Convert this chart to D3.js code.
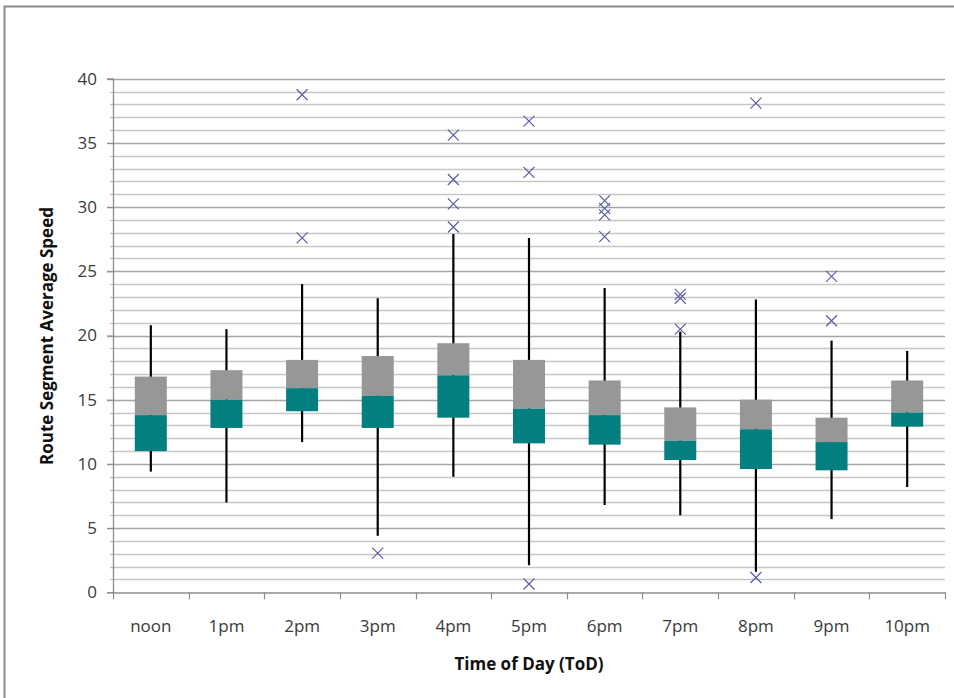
<!DOCTYPE html>
<html>
<head>
<meta charset="utf-8">
<script src="https://cdn.jsdelivr.net/npm/d3@7"></script>
<style>
  html, body { margin: 0; padding: 0; background: #fff; }
  svg { display: block; }
</style>
</head>
<body>
<svg id="chart" width="954" height="698"></svg>
<script>
const categories = ["noon","1pm","2pm","3pm","4pm","5pm","6pm","7pm","8pm","9pm","10pm"];
const whiskerLow  = [9.4, 7.0, 11.7, 4.4, 9.0, 2.1, 6.8, 6.0, 1.6, 5.7, 8.2];
const q1          = [11.0, 12.8, 14.1, 12.8, 13.6, 11.6, 11.5, 10.3, 9.6, 9.5, 12.9];
const median      = [13.8, 15.0, 15.9, 15.3, 16.9, 14.3, 13.8, 11.8, 12.7, 11.7, 14.0];
const q3          = [16.8, 17.3, 18.1, 18.4, 19.4, 18.1, 16.5, 14.4, 15.0, 13.6, 16.5];
const whiskerHigh = [20.8, 20.5, 24.0, 22.9, 27.9, 27.6, 23.7, 20.3, 22.8, 19.6, 18.8];
const outliers = [
  [],
  [],
  [38.75, 27.6],
  [3.05],
  [35.6, 32.15, 30.25, 28.45],
  [36.7, 32.7, 0.65],
  [30.5, 29.9, 29.4, 27.7],
  [23.2, 22.9, 20.5],
  [38.1, 1.15],
  [24.6, 21.15],
  []
];
const yTicks = [0, 5, 10, 15, 20, 25, 30, 35, 40];
const yTitle = "Route Segment Average Speed";
const xTitle = "Time of Day (ToD)";

const svg = d3.select("#chart");
const left = 113, right = 945, y0 = 592.3, y40 = 78.7;
const FONT = "'Open Sans', sans-serif";

// frame
svg.append("rect").attr("x", 4.5).attr("y", 6.5).attr("width", 1000).attr("height", 1000)
  .attr("fill", "none").attr("stroke", "#8a8a8a").attr("stroke-width", 2);

const x = d3.scaleBand().domain(categories).range([left, right]).padding(0);
const y = d3.scaleLinear().domain([0, 40]).range([y0, y40]);

// gridlines every 1 unit
const gridVals = d3.range(1, 41);
svg.append("g").selectAll("line").data(gridVals).join("line")
  .attr("x1", d => d % 5 === 0 ? left - 6 : left - 3).attr("x2", right)
  .attr("y1", d => Math.round(y(d)) + 0.5).attr("y2", d => Math.round(y(d)) + 0.5)
  .attr("stroke", d => d % 5 === 0 ? "#a6a6a6" : "#c6c6c6")
  .attr("stroke-width", 1.3);

// y axis
const yAxis = svg.append("g").attr("transform", `translate(${left},0)`)
  .call(d3.axisLeft(y).tickValues(yTicks).tickSize(6).tickPadding(10));
yAxis.select(".domain").attr("stroke", "#8c8c8c").attr("stroke-width", 1.3);
yAxis.selectAll(".tick line").attr("stroke", "#8c8c8c");
yAxis.selectAll("text").attr("font-family", FONT).attr("font-size", 17).attr("fill", "#3a3a3a");

// x axis
const xAxis = svg.append("g").attr("transform", `translate(0,${Math.round(y0) + 0.5})`)
  .call(d3.axisBottom(x).tickSize(0).tickPadding(27));
xAxis.select(".domain").attr("stroke", "#8c8c8c").attr("stroke-width", 1.3);
xAxis.selectAll("text").attr("font-family", FONT).attr("font-size", 17).attr("fill", "#3a3a3a");
const bounds = categories.map(c => x(c)).concat([right]);
svg.append("g").selectAll("line").data(bounds).join("line")
  .attr("x1", d => Math.round(d) + 0.5).attr("x2", d => Math.round(d) + 0.5)
  .attr("y1", y0).attr("y2", y0 + 7)
  .attr("stroke", "#8c8c8c").attr("stroke-width", 1.2);

// boxes
const bw = 32;
const g = svg.append("g");
categories.forEach((c, i) => {
  const cx = x(c) + x.bandwidth() / 2;
  g.append("line").attr("x1", cx).attr("x2", cx)
    .attr("y1", y(whiskerHigh[i])).attr("y2", y(whiskerLow[i]))
    .attr("stroke", "#000").attr("stroke-width", 2.2);
  g.append("rect").attr("x", cx - bw / 2).attr("width", bw)
    .attr("y", y(q3[i])).attr("height", y(median[i]) - y(q3[i]))
    .attr("fill", "#979797");
  g.append("rect").attr("x", cx - bw / 2).attr("width", bw)
    .attr("y", y(median[i])).attr("height", y(q1[i]) - y(median[i]))
    .attr("fill", "#037f80");
  outliers[i].forEach(v => {
    const py = y(v), s = 5.5;
    g.append("path")
      .attr("d", `M${cx - s},${py - s}L${cx + s},${py + s}M${cx - s},${py + s}L${cx + s},${py - s}`)
      .attr("stroke", "#5a5ca8").attr("stroke-width", 1.2).attr("fill", "none");
  });
});

// titles
svg.append("text").attr("x", 529).attr("y", 670).attr("text-anchor", "middle")
  .attr("font-family", FONT).attr("font-size", 17).attr("font-weight", "bold").attr("fill", "#111")
  .text(xTitle);
svg.append("text").attr("transform", "translate(53,336) rotate(-90)").attr("text-anchor", "middle")
  .attr("font-family", FONT).attr("font-size", 17).attr("font-weight", "bold").attr("fill", "#111")
  .text(yTitle);
</script>
</body>
</html>
